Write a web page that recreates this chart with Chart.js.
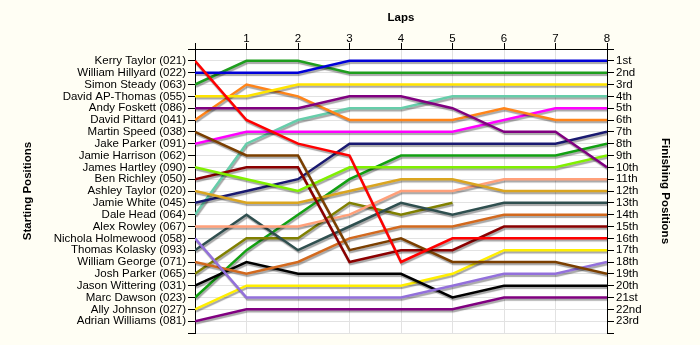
<!DOCTYPE html>
<html>
<head>
<meta charset="utf-8">
<script src="https://cdn.jsdelivr.net/npm/chart.js@4.4.1/dist/chart.umd.min.js"></script>
<style>
  html, body { margin: 0; padding: 0; background: #fffef4; }
</style>
</head>
<body>
<canvas id="race" width="700" height="345"></canvas>
<script>
// laps along the top, lap 0 is the grid
const laps = [0, 1, 2, 3, 4, 5, 6, 7, 8];

// grid order, top to bottom
const drivers = [
  "Kerry Taylor (021)",
  "William Hillyard (022)",
  "Simon Steady (063)",
  "David AP-Thomas (055)",
  "Andy Foskett (086)",
  "David Pittard (041)",
  "Martin Speed (038)",
  "Jake Parker (091)",
  "Jamie Harrison (062)",
  "James Hartley (090)",
  "Ben Richley (050)",
  "Ashley Taylor (020)",
  "Jamie White (045)",
  "Dale Head (064)",
  "Alex Rowley (067)",
  "Nichola Holmewood (058)",
  "Thomas Kolasky (093)",
  "William George (071)",
  "Josh Parker (065)",
  "Jason Wittering (031)",
  "Marc Dawson (023)",
  "Ally Johnson (027)",
  "Adrian Williams (081)"
];

// position of each driver at the end of every lap (null = out)
const lapPositions = [
  [1, 6, 8, 9, 18, 16, 16, 16, 16],
  [2, 2, 2, 1, 1, 1, 1, 1, 1],
  [3, 1, 1, 2, 2, 2, 2, 2, 2],
  [4, 4, 3, 3, 3, 3, 3, 3, 3],
  [5, 5, 5, 4, 4, 5, 7, 7, 10],
  [6, 3, 4, 6, 6, 6, 5, 6, 6],
  [7, 9, 9, 17, 16, 18, 18, 18, 19],
  [8, 7, 7, 7, 7, 7, 6, 5, 5],
  [9, null, null, null, null, null, null, null, null],
  [10, 11, 12, 10, 10, 10, 10, 10, 9],
  [11, 10, 10, 18, 17, 17, 15, 15, 15],
  [12, 13, 13, 12, 11, 11, 12, 12, 12],
  [13, 12, 11, 8, 8, 8, 8, 8, 7],
  [14, 8, 6, 5, 5, 4, 4, 4, 4],
  [15, 15, 15, 14, 12, 12, 11, 11, 11],
  [16, 21, 21, 21, 21, 20, 19, 19, 18],
  [17, 14, 17, 15, 13, 14, 13, 13, 13],
  [18, 19, 18, 16, 15, 15, 14, 14, 14],
  [19, 16, 16, 13, 14, 13, null, null, null],
  [20, 18, 19, 19, 19, 21, 20, 20, 20],
  [21, 17, 14, 11, 9, 9, 9, 9, 8],
  [22, 20, 20, 20, 20, 19, 17, 17, 17],
  [23, 22, 22, 22, 22, 22, 21, 21, 21]
];

const finishLabels = [
  "1st", "2nd", "3rd", "4th", "5th", "6th", "7th", "8th", "9th", "10th",
  "11th", "12th", "13th", "14th", "15th", "16th", "17th", "18th", "19th",
  "20th", "21st", "22nd", "23rd"
];

const lineColors = [
  "#ff0000", "#0000d8", "#1e9e1e", "#ffe400", "#800080", "#ff8419",
  "#7b3f00", "#ff00ff", "#4682b4", "#80f000", "#8b0000", "#daa520",
  "#191970", "#66cdaa", "#ffa07a", "#9370db", "#2f4f4f", "#d2691e",
  "#808000", "#000000", "#12a012", "#ffee00", "#800080"
];

const datasets = drivers.map((name, i) => ({
  label: name,
  data: lapPositions[i].map((p, lap) => ({ x: laps[lap], y: p })),
  borderColor: lineColors[i],
  borderWidth: 2.5,
  pointRadius: 0,
  tension: 0,
  spanGaps: false
}));

// white plot area on the cream page
const plotBackground = {
  id: "plotBackground",
  beforeDraw(chart) {
    const { ctx, chartArea: a } = chart;
    ctx.save();
    ctx.fillStyle = "#ffffff";
    ctx.fillRect(a.left, a.top, a.right - a.left, a.bottom - a.top);
    ctx.restore();
  }
};

// soft grey drop shadow under every line
const lineShadow = {
  id: "lineShadow",
  beforeDatasetDraw(chart) {
    const ctx = chart.ctx;
    ctx.save();
    ctx.shadowColor = "rgba(0,0,0,0.35)";
    ctx.shadowOffsetX = 1;
    ctx.shadowOffsetY = 2;
    ctx.shadowBlur = 1;
  },
  afterDatasetDraw(chart) {
    chart.ctx.restore();
  }
};

const tickFont = { family: "Liberation Sans", size: 11.5 };
const titleFont = { family: "Liberation Sans", size: 11.5, weight: "bold" };

new Chart(document.getElementById("race"), {
  type: "line",
  data: { datasets },
  plugins: [plotBackground, lineShadow],
  options: {
    responsive: false,
    animation: false,
    layout: { padding: { left: 0, right: 0, top: 0, bottom: 12 } },
    plugins: {
      legend: { display: false },
      tooltip: { enabled: false }
    },
    scales: {
      x: {
        type: "linear",
        position: "top",
        min: 0,
        max: 8,
        ticks: {
          stepSize: 1,
          autoSkip: false,
          maxRotation: 0,
          padding: -3,
          color: "#000",
          font: tickFont,
          callback: (v) => (v === 0 ? "" : v)
        },
        grid: { color: "#e2e2e2", tickColor: "#000", tickLength: 6 },
        border: { display: true, color: "#000", width: 1 },
        title: {
          display: true,
          text: "Laps",
          color: "#000",
          font: titleFont,
          padding: { top: 11, bottom: 0 }
        },
        afterFit: (s) => { s.height = 49; }
      },
      y: {
        type: "linear",
        position: "left",
        min: 0,
        max: 24,
        reverse: true,
        ticks: {
          stepSize: 1,
          autoSkip: false,
          padding: 2,
          color: "#000",
          font: tickFont,
          callback: (v) => drivers[v - 1] || ""
        },
        grid: { color: "#e2e2e2", tickColor: "#000", tickLength: 7 },
        border: { display: true, color: "#000", width: 1 },
        title: {
          display: true,
          text: "Starting Positions",
          color: "#000",
          font: titleFont,
          padding: { top: 21, bottom: 0 }
        },
        afterFit: (s) => { s.width = 195; }
      },
      y2: {
        type: "linear",
        position: "right",
        min: 0,
        max: 24,
        reverse: true,
        ticks: {
          stepSize: 1,
          autoSkip: false,
          padding: 2,
          color: "#000",
          font: tickFont,
          callback: (v) => finishLabels[v - 1] || ""
        },
        grid: { drawOnChartArea: false, tickColor: "#000", tickLength: 7 },
        border: { display: true, color: "#000", width: 1 },
        title: {
          display: true,
          text: "Finishing Positions",
          color: "#000",
          font: titleFont,
          padding: { top: 28, bottom: 0 }
        },
        afterFit: (s) => { s.width = 93; }
      }
    }
  }
});
</script>
</body>
</html>
